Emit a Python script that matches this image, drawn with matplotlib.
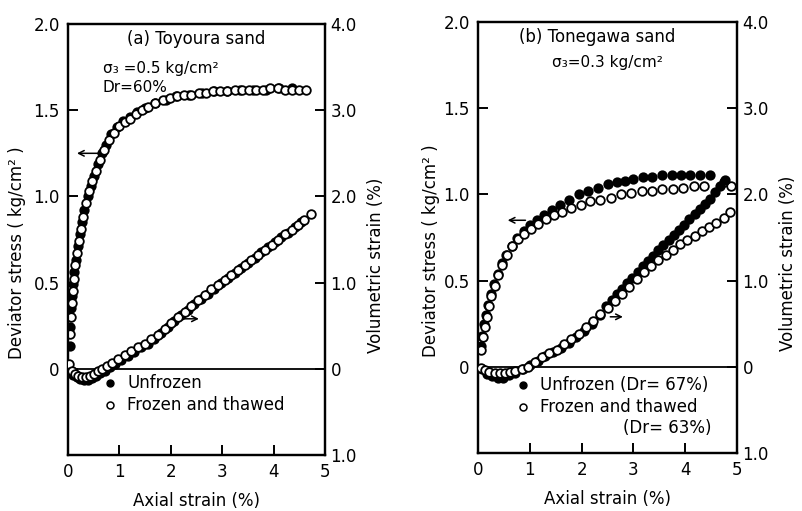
import matplotlib.pyplot as plt

# (a) Toyoura sand - deviator stress (kg/cm2) vs axial strain (%)
toy_unf_x = [0.03, 0.04, 0.05, 0.07, 0.09, 0.12, 0.15, 0.19, 0.23, 0.27, 0.32, 0.38, 0.44, 0.5, 0.58,
             0.66, 0.74, 0.84, 0.95, 1.07, 1.2, 1.35, 1.5, 1.7, 1.9, 2.1, 2.35, 2.6, 2.85, 3.1,
             3.35, 3.6, 3.85, 4.1, 4.35]
toy_unf_q = [0.13, 0.24, 0.35, 0.42, 0.49, 0.56, 0.63, 0.71, 0.78, 0.85, 0.92, 1.0, 1.06, 1.12, 1.19,
             1.25, 1.3, 1.36, 1.4, 1.44, 1.46, 1.49, 1.51, 1.54, 1.56, 1.58, 1.59, 1.6, 1.61, 1.61,
             1.62, 1.62, 1.62, 1.63, 1.63]
toy_frz_x = [0.03, 0.05, 0.07, 0.09, 0.11, 0.14, 0.17, 0.21, 0.25, 0.3, 0.35, 0.41, 0.47, 0.54, 0.62,
             0.7, 0.79, 0.89, 1.0, 1.1, 1.2, 1.32, 1.44, 1.56, 1.7, 1.84, 1.98, 2.12, 2.26, 2.4,
             2.54, 2.68, 2.82, 2.96, 3.1, 3.24, 3.38, 3.52, 3.66, 3.8, 3.94, 4.08, 4.22, 4.36, 4.5, 4.64]
toy_frz_q = [0.2, 0.3, 0.38, 0.45, 0.52, 0.6, 0.67, 0.74, 0.81, 0.88, 0.96, 1.03, 1.09, 1.15, 1.21,
             1.27, 1.33, 1.37, 1.41, 1.43, 1.45, 1.48, 1.5, 1.52, 1.54, 1.56, 1.57, 1.58, 1.59, 1.59,
             1.6, 1.6, 1.61, 1.61, 1.61, 1.62, 1.62, 1.62, 1.62, 1.62, 1.63, 1.63, 1.62, 1.62, 1.62, 1.62]
# volumetric strain (%)
toy_unf_vx = [0.05, 0.1, 0.17, 0.24, 0.31, 0.39, 0.47, 0.55, 0.63, 0.72, 0.81, 0.92, 1.03, 1.16, 1.29,
              1.42, 1.55, 1.68, 1.81, 1.94, 2.07, 2.2, 2.33, 2.46, 2.59, 2.72, 2.85, 2.98, 3.11, 3.24,
              3.37, 3.5, 3.63, 3.76, 3.89, 4.02, 4.15, 4.28, 4.41, 4.54]
toy_unf_v = [-0.03, -0.07, -0.1, -0.12, -0.13, -0.13, -0.11, -0.08, -0.05, -0.02, 0.02, 0.06, 0.1, 0.15, 0.2,
             0.25, 0.29, 0.34, 0.41, 0.48, 0.55, 0.62, 0.68, 0.75, 0.81, 0.87, 0.93, 0.99, 1.05, 1.11,
             1.17, 1.23, 1.29, 1.35, 1.41, 1.47, 1.53, 1.58, 1.64, 1.7]
toy_frz_vx = [0.02, 0.07, 0.13, 0.2, 0.27, 0.35, 0.43, 0.51, 0.59, 0.67, 0.76, 0.86, 0.97, 1.1, 1.23,
              1.36, 1.49, 1.62, 1.75, 1.88, 2.01, 2.14, 2.27, 2.4, 2.53, 2.66, 2.79, 2.92, 3.05, 3.18,
              3.31, 3.44, 3.57, 3.7, 3.83, 3.96, 4.09, 4.22, 4.35, 4.48, 4.6, 4.72]
toy_frz_v = [0.05, -0.02, -0.06, -0.08, -0.09, -0.09, -0.08, -0.06, -0.03, 0.0, 0.03, 0.07, 0.11, 0.16, 0.21,
             0.25, 0.29, 0.34, 0.39, 0.46, 0.53, 0.6, 0.66, 0.73, 0.8, 0.86, 0.92, 0.97, 1.03, 1.09,
             1.15, 1.21, 1.26, 1.32, 1.38, 1.44, 1.5, 1.56, 1.61, 1.67, 1.73, 1.8]

# (b) Tonegawa sand
ton_unf_x = [0.05, 0.08, 0.12, 0.16, 0.2, 0.25, 0.31, 0.38, 0.46, 0.55, 0.65, 0.76, 0.88, 1.0, 1.13,
             1.27, 1.42, 1.58, 1.76, 1.94, 2.13, 2.32, 2.5, 2.68, 2.84, 3.0, 3.18, 3.36, 3.55, 3.74,
             3.92, 4.1, 4.29, 4.48]
ton_unf_q = [0.12, 0.18, 0.25, 0.3, 0.36, 0.42, 0.48, 0.54, 0.6, 0.65, 0.7, 0.75, 0.79, 0.82, 0.85,
             0.88, 0.91, 0.94, 0.97, 1.0, 1.02, 1.04, 1.06, 1.07, 1.08, 1.09, 1.1, 1.1, 1.11, 1.11,
             1.11, 1.11, 1.11, 1.11]
ton_frz_x = [0.06, 0.09, 0.13, 0.17, 0.21, 0.26, 0.32, 0.39, 0.47, 0.56, 0.66, 0.77, 0.89, 1.02, 1.16,
             1.31, 1.46, 1.62, 1.8, 1.98, 2.17, 2.36, 2.56, 2.76, 2.96, 3.16, 3.36, 3.56, 3.76, 3.96,
             4.16, 4.36, 4.75, 4.88]
ton_frz_q = [0.1, 0.17, 0.23, 0.29, 0.35, 0.41, 0.47, 0.53, 0.59, 0.65, 0.7, 0.74, 0.77, 0.8, 0.83,
             0.86, 0.88, 0.9, 0.92, 0.94, 0.96, 0.97, 0.98, 1.0, 1.01, 1.02, 1.02, 1.03, 1.03, 1.04,
             1.05, 1.05, 1.07, 1.05]
ton_unf_vx = [0.08, 0.18, 0.28, 0.38, 0.48, 0.6, 0.72, 0.86, 1.0, 1.15, 1.3, 1.45, 1.6, 1.75, 1.9,
              2.05, 2.2, 2.35, 2.48, 2.58, 2.68, 2.78, 2.88, 2.98, 3.08, 3.18, 3.28, 3.38, 3.48, 3.58,
              3.68, 3.78, 3.88, 3.98, 4.08, 4.18, 4.28, 4.38, 4.48, 4.58, 4.68, 4.77]
ton_unf_v = [-0.03, -0.08, -0.11, -0.13, -0.13, -0.1, -0.07, -0.03, 0.02, 0.07, 0.12, 0.17, 0.22, 0.28, 0.35,
             0.42, 0.5, 0.6, 0.7, 0.77, 0.84, 0.9, 0.97, 1.03, 1.1, 1.17, 1.23, 1.29, 1.35, 1.41,
             1.47, 1.53, 1.59, 1.65, 1.71, 1.77, 1.83, 1.89, 1.95, 2.03, 2.1, 2.17]
ton_frz_vx = [0.05, 0.13, 0.22, 0.32, 0.42, 0.52, 0.62, 0.72, 0.84, 0.97, 1.1, 1.24, 1.38, 1.52, 1.66,
              1.8, 1.94, 2.08, 2.22, 2.36, 2.5, 2.64, 2.78, 2.92, 3.06, 3.2, 3.34, 3.48, 3.62, 3.76,
              3.9, 4.04, 4.18, 4.32, 4.46, 4.6, 4.74, 4.87]
ton_frz_v = [-0.01, -0.04, -0.06, -0.07, -0.07, -0.07, -0.06, -0.05, -0.03, 0.0, 0.06, 0.11, 0.16, 0.2, 0.26,
             0.32, 0.38, 0.46, 0.53, 0.61, 0.68, 0.76, 0.84, 0.93, 1.02, 1.1, 1.17, 1.24, 1.3, 1.36,
             1.42, 1.47, 1.52, 1.57, 1.62, 1.67, 1.73, 1.8]

q_ticks = [0, 0.5, 1.0, 1.5, 2.0]
q_labels = ['0', '0.5', '1.0', '1.5', '2.0']
v_ticks = [-1, 0, 1, 2, 3, 4]
v_labels = ['1.0', '0', '1.0', '2.0', '3.0', '4.0']
x_ticks = [0, 1, 2, 3, 4, 5]

FS = 12
MS = 6.2


def draw_panel(ax, unf_x, unf_q, frz_x, frz_q, unf_vx, unf_v, frz_vx, frz_v):
    ax.set_xlim(0, 5)
    ax.set_ylim(-0.5, 2.0)
    ax.axhline(0, color='k', lw=1.3)
    ax.set_xticks(x_ticks)
    ax.set_xticklabels([str(t) for t in x_ticks], fontsize=FS)
    ax.set_yticks(q_ticks)
    ax.set_yticklabels(q_labels, fontsize=FS)
    ax.tick_params(direction='in', length=7, width=1.4, pad=6)
    for s in ax.spines.values():
        s.set_linewidth(1.6)

    ax2 = ax.twinx()
    ax2.set_ylim(-1.0, 4.0)
    ax2.set_yticks(v_ticks)
    ax2.set_yticklabels(v_labels, fontsize=FS)
    ax2.tick_params(direction='in', length=7, width=1.4, pad=4)
    for s in ax2.spines.values():
        s.set_linewidth(1.6)

    # filled first, open (white face) on top
    ax.plot(unf_x, unf_q, 'o', ms=MS, mfc='k', mec='k', mew=1.2, zorder=3)
    ax.plot(frz_x, frz_q, 'o', ms=MS, mfc='white', mec='k', mew=1.3, zorder=4)
    ax2.plot(unf_vx, unf_v, 'o', ms=MS, mfc='k', mec='k', mew=1.2, zorder=3)
    ax2.plot(frz_vx, frz_v, 'o', ms=MS, mfc='white', mec='k', mew=1.3, zorder=4)

    ax.set_xlabel('Axial strain (%)', fontsize=FS, labelpad=8)
    ax.set_ylabel('Deviator stress ( kg/cm² )', fontsize=FS)
    ax2.set_ylabel('Volumetric strain (%)', fontsize=FS)
    return ax2


fig = plt.figure(figsize=(8.02, 5.11), dpi=100)
axa = fig.add_axes([0.0848, 0.1096, 0.3204, 0.8434])
axb = fig.add_axes([0.596, 0.1135, 0.323, 0.8434])

axa2 = draw_panel(axa, toy_unf_x, toy_unf_q, toy_frz_x, toy_frz_q,
                  toy_unf_vx, toy_unf_v, toy_frz_vx, toy_frz_v)
axb2 = draw_panel(axb, ton_unf_x, ton_unf_q, ton_frz_x, ton_frz_q,
                  ton_unf_vx, ton_unf_v, ton_frz_vx, ton_frz_v)

axa.yaxis.set_label_coords(-0.165, 0.47)
axa2.yaxis.set_label_coords(1.165, 0.44)
axb.yaxis.set_label_coords(-0.148, 0.47)
axb2.yaxis.set_label_coords(1.162, 0.44)

# annotations (a)
axa.text(0.5, 0.965, '(a) Toyoura sand', transform=axa.transAxes, ha='center', va='center', fontsize=FS)
axa.text(0.136, 0.897, 'σ₃ =0.5 kg/cm²', transform=axa.transAxes, ha='left', va='center', fontsize=11)
axa.text(0.136, 0.852, 'Dr=60%', transform=axa.transAxes, ha='left', va='center', fontsize=11)
axa.annotate('', xy=(0.12, 1.25), xytext=(0.66, 1.25),
             arrowprops=dict(arrowstyle='->', lw=1.1, color='k'))
axa.annotate('', xy=(2.6, 0.29), xytext=(2.22, 0.29),
             arrowprops=dict(arrowstyle='->', lw=1.1, color='k'))
axa.plot([0.163], [0.167], 'o', ms=5, mfc='k', mec='k', transform=axa.transAxes)
axa.plot([0.163], [0.116], 'o', ms=5, mfc='white', mec='k', mew=1.1, transform=axa.transAxes)
axa.text(0.23, 0.167, 'Unfrozen', transform=axa.transAxes, ha='left', va='center', fontsize=FS)
axa.text(0.23, 0.116, 'Frozen and thawed', transform=axa.transAxes, ha='left', va='center', fontsize=FS)

# annotations (b)
axb.text(0.46, 0.965, '(b) Tonegawa sand', transform=axb.transAxes, ha='center', va='center', fontsize=FS)
axb.text(0.5, 0.905, 'σ₃=0.3 kg/cm²', transform=axb.transAxes, ha='center', va='center', fontsize=11)
axb.annotate('', xy=(0.52, 0.85), xytext=(0.97, 0.85),
             arrowprops=dict(arrowstyle='->', lw=1.1, color='k'))
axb.annotate('', xy=(2.85, 0.29), xytext=(2.5, 0.29),
             arrowprops=dict(arrowstyle='->', lw=1.1, color='k'))
axb.plot([0.174], [0.158], 'o', ms=5, mfc='k', mec='k', transform=axb.transAxes)
axb.plot([0.174], [0.107], 'o', ms=5, mfc='white', mec='k', mew=1.1, transform=axb.transAxes)
axb.text(0.24, 0.158, 'Unfrozen (Dr= 67%)', transform=axb.transAxes, ha='left', va='center', fontsize=FS)
axb.text(0.24, 0.107, 'Frozen and thawed', transform=axb.transAxes, ha='left', va='center', fontsize=FS)
axb.text(0.9, 0.058, '(Dr= 63%)', transform=axb.transAxes, ha='right', va='center', fontsize=FS)

fig.savefig('out.png', dpi=100)
